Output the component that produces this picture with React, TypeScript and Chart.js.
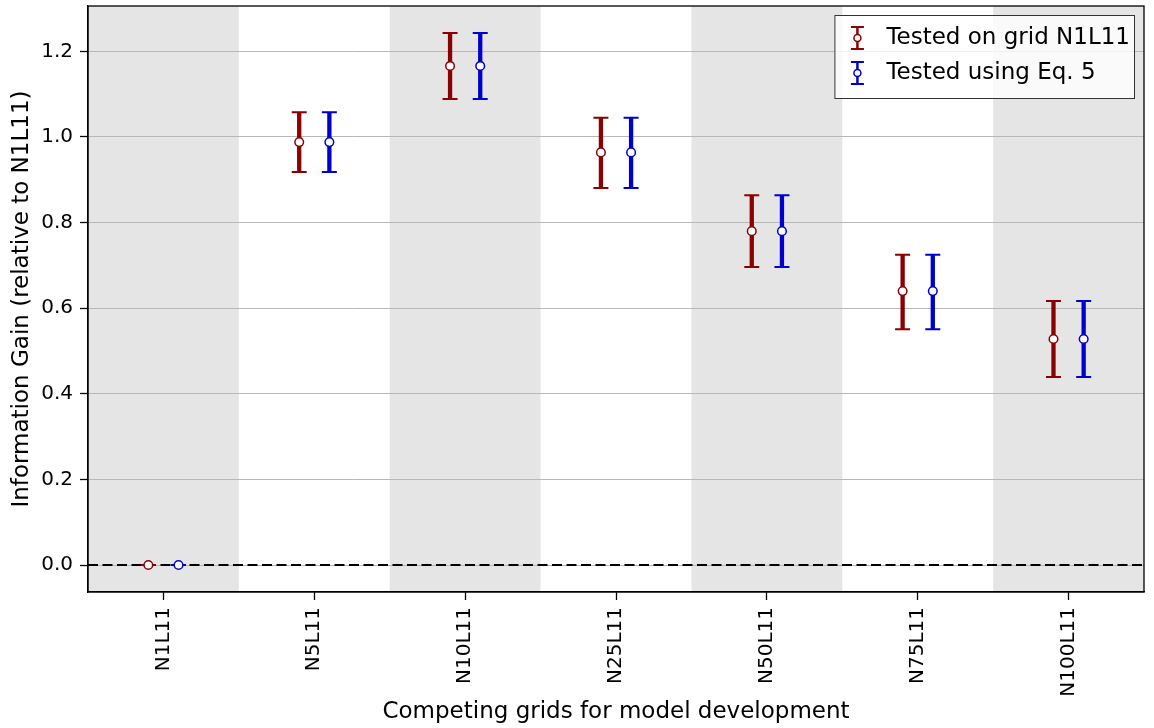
import React, { useEffect, useRef } from 'react';
import { Chart, registerables } from 'chart.js';

Chart.register(...registerables);

const categories = ['N1L11', 'N5L11', 'N10L11', 'N25L11', 'N50L11', 'N75L11', 'N100L11'];

const gridValues = [0, 0.988, 1.166, 0.964, 0.780, 0.640, 0.528];
const gridLower = [0, 0.918, 1.089, 0.881, 0.696, 0.551, 0.439];
const gridUpper = [0, 1.058, 1.243, 1.045, 0.864, 0.725, 0.617];

const eqValues = [0, 0.988, 1.166, 0.964, 0.780, 0.640, 0.528];
const eqLower = [0, 0.918, 1.089, 0.881, 0.696, 0.551, 0.439];
const eqUpper = [0, 1.058, 1.243, 1.045, 0.864, 0.725, 0.617];

const yTicks = [0, 0.2, 0.4, 0.6, 0.8, 1.0, 1.2];
const seriesLabels = ['Tested on grid N1L11', 'Tested using Eq. 5'];
const xTitle = 'Competing grids for model development';
const yTitle = 'Information Gain (relative to N1L11)';

const FONT = "'DejaVu Sans', 'Liberation Sans', sans-serif";
const RED = '#8b0000';
const BLUE = '#0000cd';
const OFFSETS = [-0.1, 0.1];
const COLORS = [RED, BLUE];
const LOWERS = [gridLower, eqLower];
const UPPERS = [gridUpper, eqUpper];

const bandsPlugin = {
  id: 'bands',
  beforeDraw(chart: any) {
    const { ctx, chartArea, scales } = chart;
    const x = scales.x;
    ctx.save();
    ctx.fillStyle = '#e5e5e5';
    categories.forEach((_, i) => {
      if (i % 2 === 0) {
        const l = Math.max(x.getPixelForValue(i - 0.5), chartArea.left);
        const r = Math.min(x.getPixelForValue(i + 0.5), chartArea.right);
        ctx.fillRect(l, chartArea.top, r - l, chartArea.bottom - chartArea.top);
      }
    });
    ctx.restore();
  },
};

const errorPlugin = {
  id: 'errorbars',
  beforeDatasetsDraw(chart: any) {
    const { ctx, chartArea, scales } = chart;
    const x = scales.x;
    const y = scales.y;
    ctx.save();
    const y0 = y.getPixelForValue(0);
    ctx.strokeStyle = '#000';
    ctx.lineWidth = 2;
    ctx.setLineDash([10, 4.5]);
    ctx.beginPath();
    ctx.moveTo(chartArea.left, y0);
    ctx.lineTo(chartArea.right, y0);
    ctx.stroke();
    ctx.setLineDash([]);
    for (let k = 0; k < 2; k++) {
      ctx.strokeStyle = COLORS[k];
      categories.forEach((_, i) => {
        const px = x.getPixelForValue(i + OFFSETS[k]);
        const yl = y.getPixelForValue(LOWERS[k][i]);
        const yu = y.getPixelForValue(UPPERS[k][i]);
        ctx.lineWidth = 4.3;
        ctx.beginPath();
        ctx.moveTo(px, yl);
        ctx.lineTo(px, yu);
        ctx.stroke();
        ctx.lineWidth = 2;
        ctx.beginPath();
        ctx.moveTo(px - 7.5, yl);
        ctx.lineTo(px + 7.5, yl);
        ctx.moveTo(px - 7.5, yu);
        ctx.lineTo(px + 7.5, yu);
        ctx.stroke();
      });
    }
    ctx.restore();
  },
};

const framePlugin = {
  id: 'frameLegend',
  afterDraw(chart: any) {
    const { ctx, chartArea } = chart;
    ctx.save();
    ctx.strokeStyle = '#000';
    ctx.lineWidth = 1.3;
    ctx.strokeRect(chartArea.left, chartArea.top, chartArea.right - chartArea.left, chartArea.bottom - chartArea.top);

    ctx.font = `23px ${FONT}`;
    const tw = Math.max(...seriesLabels.map((s) => ctx.measureText(s).width));
    const w = tw + 56;
    const h = 83;
    const right = chartArea.right - 10;
    const top = chartArea.top + 9;
    const left = right - w;
    ctx.fillStyle = 'rgba(255,255,255,0.8)';
    ctx.fillRect(left, top, w, h);
    ctx.strokeStyle = '#333';
    ctx.lineWidth = 1;
    ctx.strokeRect(left + 0.5, top + 0.5, w, h);
    seriesLabels.forEach((lab, k) => {
      const cy = top + 23 + k * 35;
      const cx = left + 23;
      ctx.strokeStyle = COLORS[k];
      ctx.lineWidth = 2.5;
      ctx.beginPath();
      ctx.moveTo(cx, cy - 11);
      ctx.lineTo(cx, cy + 11);
      ctx.stroke();
      ctx.lineWidth = 2;
      ctx.beginPath();
      ctx.moveTo(cx - 6.5, cy - 11);
      ctx.lineTo(cx + 6.5, cy - 11);
      ctx.moveTo(cx - 6.5, cy + 11);
      ctx.lineTo(cx + 6.5, cy + 11);
      ctx.stroke();
      ctx.beginPath();
      ctx.arc(cx, cy, 3.5, 0, Math.PI * 2);
      ctx.fillStyle = '#fff';
      ctx.fill();
      ctx.lineWidth = 1.5;
      ctx.stroke();
      ctx.fillStyle = '#000';
      ctx.textAlign = 'left';
      ctx.textBaseline = 'middle';
      ctx.fillText(lab, left + 52, cy);
    });
    ctx.restore();
  },
};

export default function App() {
  const ref = useRef<HTMLCanvasElement | null>(null);

  useEffect(() => {
    document.body.style.margin = '0';
    const canvas = ref.current;
    if (!canvas) return;
    const chart = new Chart(canvas, {
      type: 'scatter',
      data: {
        datasets: [
          {
            label: seriesLabels[0],
            data: gridValues.map((v, i) => ({ x: i + OFFSETS[0], y: v })),
            pointRadius: 4.3,
            pointBackgroundColor: '#fff',
            pointBorderColor: RED,
            pointBorderWidth: 1.5,
            showLine: false,
          },
          {
            label: seriesLabels[1],
            data: eqValues.map((v, i) => ({ x: i + OFFSETS[1], y: v })),
            pointRadius: 4.3,
            pointBackgroundColor: '#fff',
            pointBorderColor: BLUE,
            pointBorderWidth: 1.5,
            showLine: false,
          },
        ],
      },
      options: {
        animation: false,
        responsive: false,
        devicePixelRatio: 1,
        layout: { padding: { top: 6, right: 10, left: 0, bottom: 0 } },
        plugins: {
          legend: { display: false },
          tooltip: { enabled: false },
        },
        scales: {
          x: {
            type: 'linear',
            min: -0.5,
            max: 6.5,
            afterBuildTicks: (s: any) => {
              s.ticks = categories.map((_, i) => ({ value: i }));
            },
            afterFit: (s: any) => {
              s.height = 136;
              s.paddingLeft = 0;
              s.paddingRight = 0;
            },
            ticks: {
              autoSkip: false,
              minRotation: 90,
              maxRotation: 90,
              padding: 7,
              color: '#000',
              font: { family: FONT, size: 20 },
              callback: (v: any) => categories[Math.round(Number(v))] ?? '',
            },
            grid: {
              drawOnChartArea: false,
              tickColor: '#000',
              tickLength: 8,
              tickWidth: 1.3,
            },
            border: { color: '#000', width: 1.3 },
            title: {
              display: true,
              text: xTitle,
              color: '#000',
              font: { family: FONT, size: 23 },
              padding: { top: 0, bottom: 2 },
            },
          },
          y: {
            type: 'linear',
            min: -0.063,
            max: 1.306,
            afterBuildTicks: (s: any) => {
              s.ticks = yTicks.map((v) => ({ value: v }));
            },
            afterFit: (s: any) => {
              s.width = 88;
              s.paddingTop = 0;
              s.paddingBottom = 0;
            },
            ticks: {
              padding: 7,
              color: '#000',
              font: { family: FONT, size: 20 },
              callback: (v: any) => Number(v).toFixed(1),
            },
            grid: {
              color: '#b8b8b8',
              lineWidth: 1,
              tickColor: '#000',
              tickLength: 8,
              tickWidth: 1.3,
            },
            border: { color: '#000', width: 1.3 },
            title: {
              display: true,
              text: yTitle,
              color: '#000',
              font: { family: FONT, size: 23 },
              padding: { top: 8, bottom: 0 },
            },
          },
        },
      },
      plugins: [bandsPlugin, errorPlugin, framePlugin],
    } as any);
    return () => chart.destroy();
  }, []);

  return (
    <div style={{ width: 1154, height: 728 }}>
      <canvas ref={ref} width={1154} height={728} style={{ display: 'block' }} />
    </div>
  );
}
